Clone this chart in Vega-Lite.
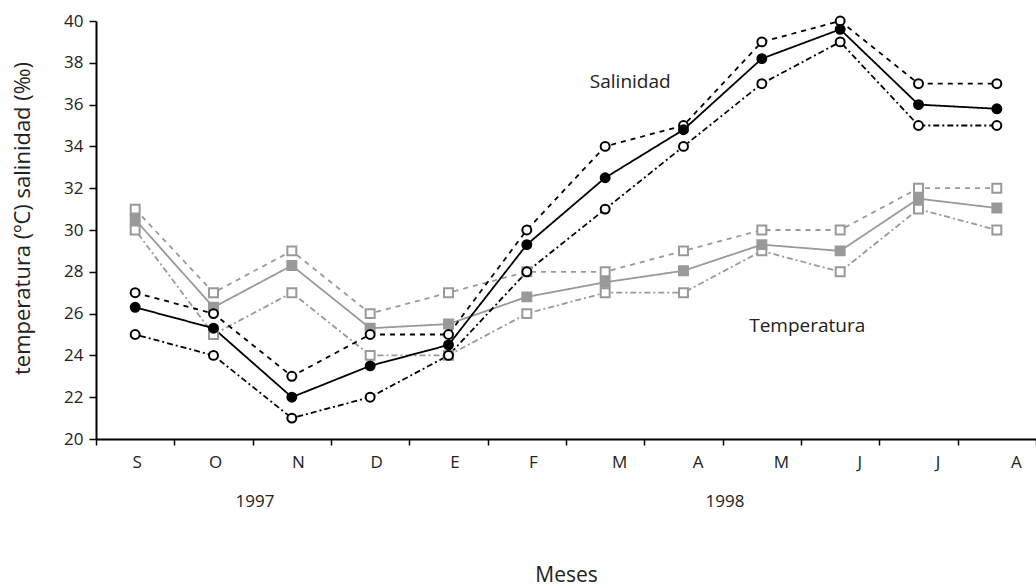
{
  "$schema": "https://vega.github.io/schema/vega-lite/v6.json",
  "width": 940,
  "height": 418,
  "autosize": "none",
  "padding": {"left": 96, "top": 21, "right": 0, "bottom": 149},
  "config": {"view": {"stroke": null}, "font": "Open Sans", "axis": {"grid": false}},
  "datasets": {
    "main": [
      {"m": 1, "serie": "Tem_max", "v": 31}, {"m": 2, "serie": "Tem_max", "v": 27}, {"m": 3, "serie": "Tem_max", "v": 29}, {"m": 4, "serie": "Tem_max", "v": 26}, {"m": 5, "serie": "Tem_max", "v": 27}, {"m": 6, "serie": "Tem_max", "v": 28}, {"m": 7, "serie": "Tem_max", "v": 28}, {"m": 8, "serie": "Tem_max", "v": 29}, {"m": 9, "serie": "Tem_max", "v": 30}, {"m": 10, "serie": "Tem_max", "v": 30}, {"m": 11, "serie": "Tem_max", "v": 32}, {"m": 12, "serie": "Tem_max", "v": 32},
      {"m": 1, "serie": "Tem_min", "v": 30}, {"m": 2, "serie": "Tem_min", "v": 25}, {"m": 3, "serie": "Tem_min", "v": 27}, {"m": 4, "serie": "Tem_min", "v": 24}, {"m": 5, "serie": "Tem_min", "v": 24}, {"m": 6, "serie": "Tem_min", "v": 26}, {"m": 7, "serie": "Tem_min", "v": 27}, {"m": 8, "serie": "Tem_min", "v": 27}, {"m": 9, "serie": "Tem_min", "v": 29}, {"m": 10, "serie": "Tem_min", "v": 28}, {"m": 11, "serie": "Tem_min", "v": 31}, {"m": 12, "serie": "Tem_min", "v": 30},
      {"m": 1, "serie": "Tem_media", "v": 30.5}, {"m": 2, "serie": "Tem_media", "v": 26.3}, {"m": 3, "serie": "Tem_media", "v": 28.3}, {"m": 4, "serie": "Tem_media", "v": 25.3}, {"m": 5, "serie": "Tem_media", "v": 25.5}, {"m": 6, "serie": "Tem_media", "v": 26.8}, {"m": 7, "serie": "Tem_media", "v": 27.5}, {"m": 8, "serie": "Tem_media", "v": 28.05}, {"m": 9, "serie": "Tem_media", "v": 29.3}, {"m": 10, "serie": "Tem_media", "v": 29.0}, {"m": 11, "serie": "Tem_media", "v": 31.5}, {"m": 12, "serie": "Tem_media", "v": 31.05},
      {"m": 1, "serie": "Sal_max", "v": 27}, {"m": 2, "serie": "Sal_max", "v": 26}, {"m": 3, "serie": "Sal_max", "v": 23}, {"m": 4, "serie": "Sal_max", "v": 25}, {"m": 5, "serie": "Sal_max", "v": 25}, {"m": 6, "serie": "Sal_max", "v": 30}, {"m": 7, "serie": "Sal_max", "v": 34}, {"m": 8, "serie": "Sal_max", "v": 35}, {"m": 9, "serie": "Sal_max", "v": 39}, {"m": 10, "serie": "Sal_max", "v": 40}, {"m": 11, "serie": "Sal_max", "v": 37}, {"m": 12, "serie": "Sal_max", "v": 37},
      {"m": 1, "serie": "Sal_min", "v": 25}, {"m": 2, "serie": "Sal_min", "v": 24}, {"m": 3, "serie": "Sal_min", "v": 21}, {"m": 4, "serie": "Sal_min", "v": 22}, {"m": 5, "serie": "Sal_min", "v": 24}, {"m": 6, "serie": "Sal_min", "v": 28}, {"m": 7, "serie": "Sal_min", "v": 31}, {"m": 8, "serie": "Sal_min", "v": 34}, {"m": 9, "serie": "Sal_min", "v": 37}, {"m": 10, "serie": "Sal_min", "v": 39}, {"m": 11, "serie": "Sal_min", "v": 35}, {"m": 12, "serie": "Sal_min", "v": 35},
      {"m": 1, "serie": "Sal_media", "v": 26.3}, {"m": 2, "serie": "Sal_media", "v": 25.3}, {"m": 3, "serie": "Sal_media", "v": 22.0}, {"m": 4, "serie": "Sal_media", "v": 23.5}, {"m": 5, "serie": "Sal_media", "v": 24.5}, {"m": 6, "serie": "Sal_media", "v": 29.3}, {"m": 7, "serie": "Sal_media", "v": 32.5}, {"m": 8, "serie": "Sal_media", "v": 34.8}, {"m": 9, "serie": "Sal_media", "v": 38.2}, {"m": 10, "serie": "Sal_media", "v": 39.6}, {"m": 11, "serie": "Sal_media", "v": 36.0}, {"m": 12, "serie": "Sal_media", "v": 35.8}
    ]
  },
  "encoding": {
    "x": {
      "field": "m", "type": "ordinal",
      "scale": {"type": "band", "paddingInner": 0, "paddingOuter": 0, "domain": [1,2,3,4,5,6,7,8,9,10,11,12]},
      "axis": {
        "title": "Meses", "tickBand": "extent",
        "labelExpr": "['S','O','N','D','E','F','M','A','M','J','J','A'][datum.value-1]",
        "labelOffset": {"condition": [{"test": "datum.value >= 9", "value": 19}, {"test": "datum.value >= 7", "value": 14}, {"test": "datum.value >= 3", "value": 6}], "value": 1.5},
        "labelAngle": 0, "domainWidth": 2, "domainColor": "#000", "tickColor": "#000", "tickWidth": 1.5, "tickSize": 6,
        "labelFontSize": 17, "labelPadding": 9, "labelColor": "#222", "titleFontSize": 21, "titleFontWeight": "normal", "titleColor": "#222", "titlePadding": 94
      }
    },
    "y": {
      "field": "v", "type": "quantitative",
      "scale": {"domain": [20, 40], "nice": false, "zero": false},
      "axis": {
        "title": "temperatura (ºC) salinidad (‰)", "values": [20,22,24,26,28,30,32,34,36,38,40],
        "domainWidth": 2, "domainColor": "#000", "tickColor": "#000", "tickWidth": 1.5, "tickSize": 7,
        "labelFontSize": 17, "labelPadding": 6, "labelColor": "#222", "titleFontSize": 22, "titleFontWeight": "normal", "titleColor": "#222", "titlePadding": 29, "titleY": 197
      }
    }
  },
  "layer": [
    {
      "data": {"name": "main"},
      "mark": {"type": "line", "strokeWidth": 1.8},
      "encoding": {
        "detail": {"field": "serie"},
        "color": {"field": "serie", "legend": null, "scale": {"domain": ["Tem_max","Tem_min","Tem_media","Sal_max","Sal_min","Sal_media"], "range": ["#999999","#999999","#999999","#000000","#000000","#000000"]}},
        "strokeDash": {"field": "serie", "legend": null, "scale": {"domain": ["Tem_max","Tem_min","Tem_media","Sal_max","Sal_min","Sal_media"], "range": [[5,5],[2,3,6,3],[1,0],[5,5],[2,3,6,3],[1,0]]}}
      }
    },
    {
      "data": {"name": "main"},
      "mark": {"type": "point", "filled": true, "strokeWidth": 2, "opacity": 1},
      "encoding": {
        "shape": {"field": "serie", "legend": null, "scale": {"domain": ["Tem_max","Tem_min","Tem_media","Sal_max","Sal_min","Sal_media"], "range": ["square","square","square","circle","circle","circle"]}},
        "fill": {"field": "serie", "legend": null, "scale": {"domain": ["Tem_max","Tem_min","Tem_media","Sal_max","Sal_min","Sal_media"], "range": ["#ffffff","#ffffff","#999999","#ffffff","#ffffff","#000000"]}},
        "stroke": {"field": "serie", "legend": null, "scale": {"domain": ["Tem_max","Tem_min","Tem_media","Sal_max","Sal_min","Sal_media"], "range": ["#999999","#999999","#999999","#000000","#000000","#000000"]}},
        "size": {"value": 80}
      }
    },
    {
      "data": {"values": [{"m": 3, "v": 17, "t": "1997"}, {"m": 9, "v": 17, "t": "1998"}]},
      "mark": {"type": "text", "fontSize": 17, "color": "#222", "baseline": "middle"},
      "encoding": {"x": {"field": "m", "type": "ordinal", "bandPosition": 0.03}, "text": {"field": "t"}}
    },
    {
      "data": {"values": [{"m": 7, "v": 37.1, "t": "Salinidad"}]},
      "mark": {"type": "text", "fontSize": 19, "color": "#222", "baseline": "middle"},
      "encoding": {"x": {"field": "m", "type": "ordinal", "bandPosition": 0.82}, "text": {"field": "t"}}
    },
    {
      "data": {"values": [{"m": 10, "v": 25.4, "t": "Temperatura"}]},
      "mark": {"type": "text", "fontSize": 19, "color": "#222", "baseline": "middle"},
      "encoding": {"x": {"field": "m", "type": "ordinal", "bandPosition": 0.08}, "text": {"field": "t"}}
    }
  ]
}
